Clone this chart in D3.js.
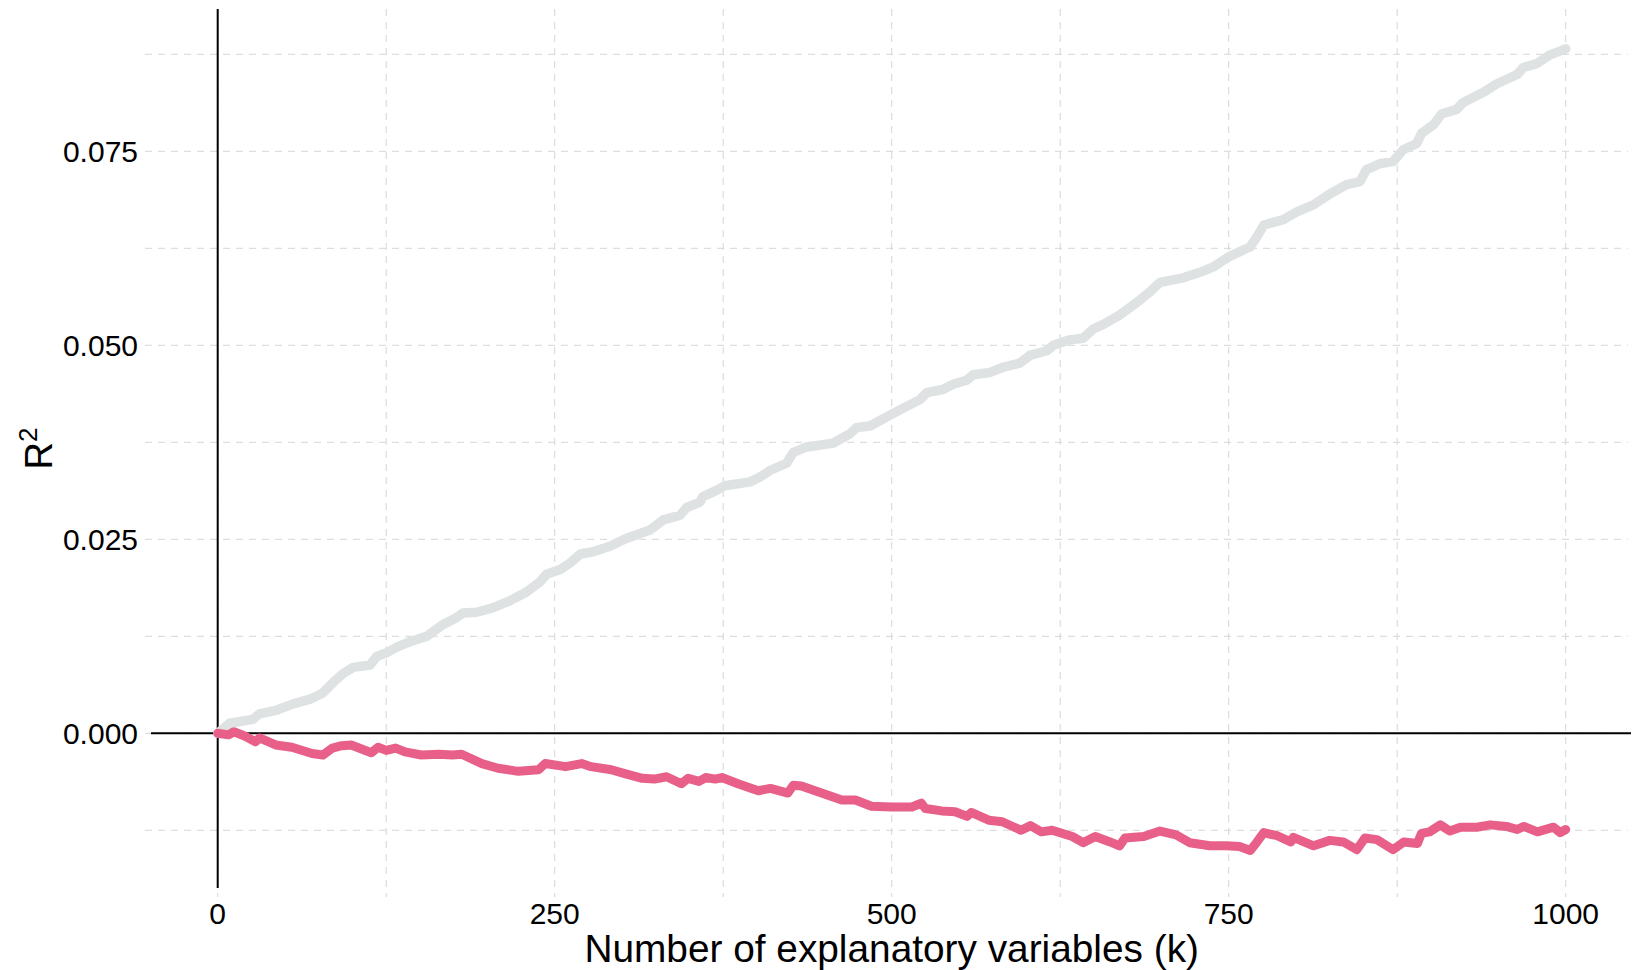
<!DOCTYPE html>
<html>
<head>
<meta charset="utf-8">
<script src="https://cdn.jsdelivr.net/npm/d3@7"></script>
<style>
  html, body { margin: 0; padding: 0; background: #fff; }
  svg text { font-family: "Liberation Sans", Arial, Helvetica, sans-serif; fill: #000; }
</style>
</head>
<body>
<svg id="chart" width="1641" height="970"></svg>
<script>
// ---- data ----
const xTicks = [0, 250, 500, 750, 1000];
const xMinor = [125, 375, 625, 875];
const yTicks = [0.000, 0.025, 0.050, 0.075];
const yMinor = [-0.0125, 0.0125, 0.0375, 0.0625, 0.0875];
const xTitle = "Number of explanatory variables (k)";

// R² (grey series)
const kR2 = [0,9,26,31,44,56,68.5,78,86,93,100.6,113,118,125.4,133,142.7,155,167,177,182,192,204.5,217,229,239,244,254,261,269,278.6,291,303,320.7,330.6,343,348,357.8,360,370,376,395,402,410,422,427,437,456.7,469,474,484,498.7,508.6,521,526,538,545.7,555.6,560.5,573,583,595,602.6,615,620,632,642,649.5,657,669,681.7,691.6,699,716.3,728.7,738.6,750,766,771,776,790.5,800.5,812.8,825,837.5,847.4,852,862,872,879.5,889.5,893,901.8,908,919,924,939,949,964,968.6,978.5,988,998.4,1000];
const valR2 = [0,0.0013,0.0018,0.0025,0.003,0.0038,0.0044,0.0052,0.0066,0.0077,0.0085,0.0088,0.0099,0.0104,0.0111,0.0118,0.0125,0.014,0.0149,0.0155,0.0156,0.0162,0.0171,0.0182,0.0195,0.0205,0.0211,0.0219,0.0231,0.0234,0.0241,0.0251,0.0262,0.0275,0.0281,0.0291,0.0298,0.0305,0.0313,0.0319,0.0324,0.033,0.0339,0.0348,0.0362,0.0369,0.0374,0.0386,0.0394,0.0396,0.041,0.0419,0.043,0.0439,0.0443,0.045,0.0455,0.0462,0.0465,0.0472,0.0477,0.0487,0.0493,0.05,0.0507,0.0509,0.0521,0.0527,0.0539,0.0555,0.0569,0.0581,0.0587,0.0594,0.0601,0.0614,0.0627,0.064,0.0655,0.0662,0.0672,0.0681,0.0695,0.0707,0.0711,0.0726,0.0734,0.0737,0.0752,0.076,0.0773,0.0784,0.0798,0.0804,0.0813,0.0826,0.0837,0.0849,0.0858,0.0863,0.0874,0.0881,0.0882];

// adjusted R² (pink series)
const kAdj = [0,8,12,20,28,31,43,55,70,78,85,92,99,114,119,125,132,139,151,164,174,181,196,208,223,238,243,258,270,277,292,302,315,324,333,344,349,357,362,369,374,386,401,410,423,427,433,448,463,473,485,500,515,522,525,537,547,556,559,572,582,596,603,611,619,634,642,651,662,669,673,687,699,711,721,736,748,758,766,771,776,786,796,798,813,825,835,845,851,860,872,880,890,893,899,907,914,922,934,944,956,964,969,979,991,996,1000];
const valAdj = [0,-0.0002,0.0002,-0.00035,-0.0011,-0.0006,-0.0015,-0.0018,-0.0026,-0.0028,-0.0019,-0.0016,-0.0015,-0.0025,-0.0018,-0.0022,-0.0019,-0.0024,-0.0028,-0.0027,-0.0028,-0.0027,-0.0039,-0.0045,-0.0049,-0.0047,-0.0039,-0.0043,-0.0039,-0.0043,-0.0047,-0.0052,-0.0058,-0.0059,-0.0056,-0.0065,-0.0058,-0.0062,-0.0057,-0.0059,-0.0057,-0.0065,-0.0074,-0.0071,-0.0077,-0.0067,-0.0068,-0.0077,-0.0086,-0.0086,-0.0094,-0.0095,-0.0095,-0.009,-0.0097,-0.01,-0.0101,-0.0107,-0.0102,-0.0112,-0.0114,-0.0125,-0.0119,-0.0127,-0.0125,-0.0133,-0.0141,-0.0133,-0.014,-0.0145,-0.0135,-0.0133,-0.0126,-0.0131,-0.0141,-0.0145,-0.0145,-0.0146,-0.0151,-0.014,-0.0128,-0.0132,-0.014,-0.0134,-0.0145,-0.0138,-0.014,-0.015,-0.0135,-0.0137,-0.015,-0.014,-0.0142,-0.0129,-0.0127,-0.0118,-0.0126,-0.0121,-0.0121,-0.0118,-0.012,-0.0124,-0.012,-0.0127,-0.0121,-0.0128,-0.0124];

// ---- layout ----
const svg = d3.select("#chart");
const font = 30;
const x = d3.scaleLinear().domain([0, 1000]).range([217.7, 1565.7]);
const y = d3.scaleLinear().domain([0, 0.075]).range([733.3, 151.3]);
const panel = { left: 145, right: 1628, top: 9, bottom: 897 };

// gridlines
const gridColor = "#d6d6d6";
const grid = svg.append("g");
grid.selectAll("line.hg").data(yTicks.concat(yMinor)).join("line")
  .attr("x1", panel.left).attr("x2", panel.right)
  .attr("y1", d => y(d)).attr("y2", d => y(d))
  .attr("stroke", gridColor).attr("stroke-width", 1)
  .attr("stroke-dasharray", "7,6");
grid.selectAll("line.vg").data(xTicks.concat(xMinor)).join("line")
  .attr("y1", panel.top).attr("y2", panel.bottom)
  .attr("x1", d => x(d)).attr("x2", d => x(d))
  .attr("stroke", gridColor).attr("stroke-width", 1)
  .attr("stroke-dasharray", "7,6");

// reference lines at zero
svg.append("line")
  .attr("x1", 151).attr("x2", 1631)
  .attr("y1", y(0)).attr("y2", y(0))
  .attr("stroke", "#000").attr("stroke-width", 2);
svg.append("line")
  .attr("x1", x(0)).attr("x2", x(0))
  .attr("y1", 9).attr("y2", 888)
  .attr("stroke", "#000").attr("stroke-width", 2);

// series
const line = d3.line().x(d => x(d[0])).y(d => y(d[1]));
svg.append("path")
  .datum(d3.zip(kR2, valR2))
  .attr("d", line)
  .attr("fill", "none").attr("stroke", "#dee2e2").attr("stroke-width", 9.5)
  .attr("stroke-linejoin", "round").attr("stroke-linecap", "round");
svg.append("path")
  .datum(d3.zip(kAdj, valAdj))
  .attr("d", line)
  .attr("fill", "none").attr("stroke", "#e8608a").attr("stroke-width", 9)
  .attr("stroke-linejoin", "round").attr("stroke-linecap", "round");

// axis labels
const fmt = d3.format(".3f");
svg.append("g").selectAll("text").data(yTicks).join("text")
  .attr("x", 138).attr("y", d => y(d) + 10.8)
  .attr("text-anchor", "end").attr("font-size", font)
  .text(d => fmt(d));
svg.append("g").selectAll("text").data(xTicks).join("text")
  .attr("x", d => x(d)).attr("y", 923.5)
  .attr("text-anchor", "middle").attr("font-size", font)
  .text(d => d);

// titles
svg.append("text")
  .attr("x", (x(0) + x(1000)) / 2).attr("y", 962)
  .attr("text-anchor", "middle").attr("font-size", 38.8)
  .text(xTitle);

const yt = svg.append("text")
  .attr("transform", `translate(52, ${(9 + 888) / 2}) rotate(-90)`)
  .attr("text-anchor", "middle").attr("font-size", 38);
yt.append("tspan").text("R");
yt.append("tspan").attr("font-size", 26).attr("dy", -15).text("2");
</script>
</body>
</html>
